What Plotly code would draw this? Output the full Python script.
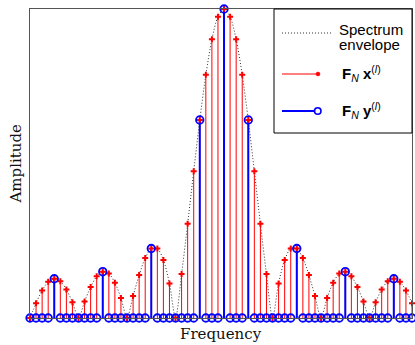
import plotly.graph_objects as go

# ---- data ----
freq_index = list(range(64))
red_amp = [0, 0.048, 0.089, 0.117, 0.127, 0.119, 0.092, 0.051,
           0, 0.053, 0.100, 0.135, 0.150, 0.144, 0.114, 0.065,
           0, 0.071, 0.139, 0.194, 0.225, 0.225, 0.188, 0.112,
           0, 0.142, 0.305, 0.475, 0.641, 0.787, 0.902, 0.975,
           1.0, 0.975, 0.902, 0.787, 0.641, 0.475, 0.305, 0.142,
           0, 0.112, 0.188, 0.225, 0.225, 0.194, 0.139, 0.071,
           0, 0.065, 0.114, 0.144, 0.150, 0.135, 0.100, 0.053,
           0, 0.051, 0.092, 0.119, 0.127, 0.117, 0.089, 0.048]
blue_amp = [0, 0, 0, 0, 0.127, 0, 0, 0,
            0, 0, 0, 0, 0.150, 0, 0, 0,
            0, 0, 0, 0, 0.225, 0, 0, 0,
            0, 0, 0, 0, 0.641, 0, 0, 0,
            1.0, 0, 0, 0, 0.641, 0, 0, 0,
            0, 0, 0, 0, 0.225, 0, 0, 0,
            0, 0, 0, 0, 0.150, 0, 0, 0,
            0, 0, 0, 0, 0.127, 0, 0, 0]
legend_labels = ["Spectrum", "envelope",
                 "<b>F</b><sub><i>N</i></sub> <b>x</b><sup>(<i>l</i>)</sup>",
                 "<b>F</b><sub><i>N</i></sub> <b>y</b><sup>(<i>l</i>)</sup>"]
x_label = "Frequency"
y_label = "Amplitude"

W, H = 415, 345
L, R, T, B = 30, 3, 9, 27
PW, PH = W - L - R, H - T - B


def px(x):
    return (x - L) / PW


def py(y):
    return (H - B - y) / PH


def stems(xs, ys):
    sx, sy = [], []
    for x, y in zip(xs, ys):
        if y > 0:
            sx += [x, x, None]
            sy += [0, y, None]
    return sx, sy


fig = go.Figure()

# spectrum envelope
fig.add_trace(go.Scatter(x=freq_index, y=red_amp, mode="lines",
                         line=dict(color="#333333", width=1, dash="1px,2px",
                                   shape="spline", smoothing=0.8),
                         showlegend=False, hoverinfo="skip"))

# red stems
rsx, rsy = stems(freq_index, red_amp)
fig.add_trace(go.Scatter(x=rsx, y=rsy, mode="lines",
                         line=dict(color="#ff0000", width=1),
                         showlegend=False, hoverinfo="skip"))

# blue stems
bsx, bsy = stems(freq_index, blue_amp)
fig.add_trace(go.Scatter(x=bsx, y=bsy, mode="lines",
                         line=dict(color="#0000ff", width=2),
                         showlegend=False, hoverinfo="skip"))

# red markers
fig.add_trace(go.Scatter(x=freq_index, y=red_amp, mode="markers",
                         marker=dict(symbol="cross", size=5, color="#ff0000",
                                     line=dict(width=0)),
                         cliponaxis=False, showlegend=False))

# blue circles
fig.add_trace(go.Scatter(x=freq_index, y=blue_amp, mode="markers",
                         marker=dict(symbol="circle-open", size=7.5,
                                     color="#0000ff", line=dict(width=1.8)),
                         cliponaxis=False, showlegend=False))

axis_common = dict(showticklabels=False, ticks="", showgrid=False,
                   zeroline=False, showline=True, mirror=True,
                   linecolor="#555555", linewidth=1, fixedrange=True)
fig.update_xaxes(range=[0, 63], **axis_common)
fig.update_yaxes(range=[0, 1], **axis_common)

shapes = [
    # legend box
    dict(type="rect", xref="paper", yref="paper",
         x0=px(274), x1=px(412), y0=py(133), y1=py(9),
         line=dict(color="#000000", width=1), fillcolor="white", layer="above"),
    # dotted envelope sample
    dict(type="line", xref="paper", yref="paper",
         x0=px(282), x1=px(333), y0=py(33), y1=py(33),
         line=dict(color="#333333", width=1, dash="1px,2px"), layer="above"),
    # red line sample
    dict(type="line", xref="paper", yref="paper",
         x0=px(282), x1=px(318), y0=py(74), y1=py(74),
         line=dict(color="#ff0000", width=1), layer="above"),
    dict(type="circle", xref="paper", yref="paper",
         x0=px(316), x1=px(320), y0=py(76), y1=py(72),
         line=dict(color="#ff0000", width=0.5), fillcolor="#ff0000", layer="above"),
    # blue line sample
    dict(type="line", xref="paper", yref="paper",
         x0=px(282), x1=px(314.5), y0=py(111), y1=py(111),
         line=dict(color="#0000ff", width=2), layer="above"),
    dict(type="circle", xref="paper", yref="paper",
         x0=px(314.5), x1=px(321), y0=py(114.3), y1=py(107.7),
         line=dict(color="#0000ff", width=1.6), fillcolor="rgba(0,0,0,0)",
         layer="above"),
]

sans = dict(family="Liberation Sans, Arial, sans-serif", size=15, color="#000000")
serif = dict(family="DejaVu Serif, serif", size=15, color="#111111")

annotations = [
    dict(text=legend_labels[0], xref="paper", yref="paper", x=px(337), y=py(29),
         xanchor="left", yanchor="middle", showarrow=False, font=sans),
    dict(text=legend_labels[1], xref="paper", yref="paper", x=px(337), y=py(45),
         xanchor="left", yanchor="middle", showarrow=False, font=sans),
    dict(text=legend_labels[2], xref="paper", yref="paper", x=px(340), y=py(73),
         xanchor="left", yanchor="middle", showarrow=False, font=sans),
    dict(text=legend_labels[3], xref="paper", yref="paper", x=px(340), y=py(110),
         xanchor="left", yanchor="middle", showarrow=False, font=sans),
    dict(text=x_label, xref="paper", yref="paper", x=0.5, y=py(334),
         xanchor="center", yanchor="middle", showarrow=False, font=serif),
    dict(text=y_label, xref="paper", yref="paper", x=px(15), y=0.5,
         xanchor="center", yanchor="middle", textangle=-90, showarrow=False,
         font=serif),
]

fig.update_layout(width=W, height=H, margin=dict(l=L, r=R, t=T, b=B),
                  paper_bgcolor="white", plot_bgcolor="white",
                  showlegend=False, shapes=shapes, annotations=annotations)

fig.write_html("out.html", config={"displayModeBar": False},
               post_script="document.body.style.margin='0px';"
                           "document.body.style.overflow='hidden';")
